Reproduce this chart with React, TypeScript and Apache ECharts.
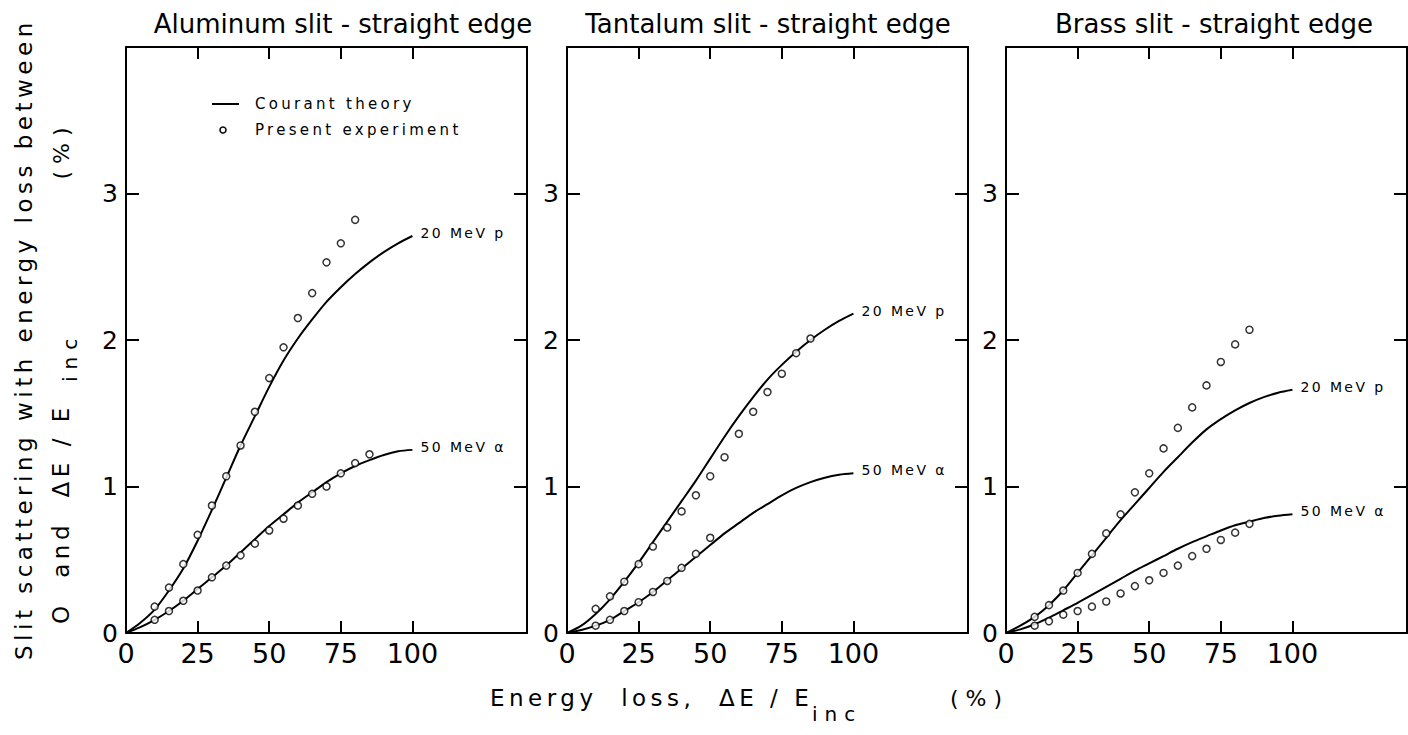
import React, { useEffect, useRef } from "react";
import * as echarts from "echarts";

// ---------- data ----------
const panelTitles = [
  "Aluminum slit - straight edge",
  "Tantalum slit - straight edge",
  "Brass slit - straight edge",
];
const xTickValues = [25, 50, 75, 100];
const xLabelValues = [0, 25, 50, 75, 100];
const yTickValues = [1, 2, 3];
const yLabelValues = [0, 1, 2, 3];

const theoryX = [0, 5, 10, 15, 20, 25, 30, 35, 40, 45, 50, 55, 60, 65, 70, 75, 80, 85, 90, 95, 100];
const expX = [10, 15, 20, 25, 30, 35, 40, 45, 50, 55, 60, 65, 70, 75, 80, 85];

const curveLabelP = "20 MeV p";
const curveLabelA = "50 MeV α";
const legendTheory = "Courant theory";
const legendExp = "Present experiment";

// Aluminum
const alTheoryP = [0, 0.07, 0.16, 0.29, 0.44, 0.63, 0.84, 1.06, 1.28, 1.48, 1.68, 1.86, 2.01, 2.14, 2.26, 2.36, 2.45, 2.53, 2.6, 2.66, 2.71];
const alTheoryA = [0, 0.04, 0.09, 0.15, 0.22, 0.3, 0.38, 0.46, 0.55, 0.64, 0.73, 0.81, 0.89, 0.96, 1.03, 1.09, 1.14, 1.18, 1.215, 1.24, 1.25];
const alExpP = [0.18, 0.31, 0.47, 0.67, 0.87, 1.07, 1.28, 1.51, 1.74, 1.95, 2.15, 2.32, 2.53, 2.66, 2.82];
const alExpA = [0.09, 0.15, 0.22, 0.29, 0.38, 0.46, 0.53, 0.61, 0.7, 0.78, 0.87, 0.95, 1.0, 1.09, 1.16, 1.22];

// Tantalum
const taTheoryP = [0, 0.05, 0.13, 0.23, 0.35, 0.48, 0.62, 0.76, 0.9, 1.04, 1.19, 1.34, 1.48, 1.61, 1.73, 1.83, 1.92, 2.0, 2.07, 2.13, 2.18];
const taTheoryA = [0, 0.02, 0.05, 0.09, 0.15, 0.21, 0.28, 0.36, 0.44, 0.52, 0.6, 0.68, 0.75, 0.82, 0.88, 0.94, 0.99, 1.03, 1.06, 1.08, 1.09];
const taExpP = [0.165, 0.25, 0.35, 0.47, 0.59, 0.72, 0.83, 0.94, 1.07, 1.2, 1.36, 1.51, 1.645, 1.77, 1.91, 2.01];
const taExpA = [0.05, 0.09, 0.15, 0.21, 0.28, 0.355, 0.445, 0.54, 0.65];

// Brass
const brTheoryP = [0, 0.05, 0.11, 0.19, 0.29, 0.41, 0.53, 0.65, 0.77, 0.88, 0.99, 1.1, 1.2, 1.3, 1.39, 1.46, 1.52, 1.57, 1.61, 1.64, 1.66];
const brTheoryA = [0, 0.025, 0.06, 0.105, 0.155, 0.205, 0.26, 0.315, 0.37, 0.425, 0.475, 0.525, 0.575, 0.62, 0.66, 0.7, 0.735, 0.76, 0.785, 0.8, 0.81];
const brExpP = [0.11, 0.19, 0.29, 0.41, 0.54, 0.68, 0.81, 0.96, 1.09, 1.26, 1.4, 1.54, 1.69, 1.85, 1.97, 2.07];
const brExpA = [0.05, 0.08, 0.125, 0.15, 0.18, 0.215, 0.27, 0.32, 0.36, 0.41, 0.46, 0.525, 0.575, 0.635, 0.685, 0.745];

const panelData = [
  { theoryP: alTheoryP, theoryA: alTheoryA, expP: alExpP, expA: alExpA },
  { theoryP: taTheoryP, theoryA: taTheoryA, expP: taExpP, expA: taExpA },
  { theoryP: brTheoryP, theoryA: brTheoryA, expP: brExpP, expA: brExpA },
];

// ---------- layout ----------
const W = 1408;
const H = 735;
const gridLefts = [126, 567, 1006];
const gridTop = 47;
const gridWidth = 401;
const gridHeight = 586;
const titleCenters = [338, 763, 1209];

const FONT = "DejaVu Sans";
const FONT_LEGEND = "DejaVu Sans, Lato";
const FONT_CURVE = "DejaVu Sans, Inter";
const FONT_AXIS = "DejaVu Sans, Roboto";
const FONT_WIDE = "DejaVu Sans, Open Sans";

const css = `
.chartbox text[style*="Lato"] { letter-spacing: 3.3px; }
.chartbox text[style*="Inter"] { letter-spacing: 2.4px; }
.chartbox text[style*="Roboto"] { letter-spacing: 4.5px; }
.chartbox text[style*="Open Sans"] { letter-spacing: 7px; }
`;

const pairs = (xs: number[], ys: number[]) => ys.map((y, i) => [xs[i], y]);

function buildOption() {
  const lineStyle = { color: "#000", width: 2 };
  const grid: any[] = [];
  const xAxis: any[] = [];
  const yAxis: any[] = [];
  const series: any[] = [];

  panelData.forEach((p, i) => {
    grid.push({ left: gridLefts[i], top: gridTop, width: gridWidth, height: gridHeight });
    (["bottom", "top"] as const).forEach((pos) => {
      xAxis.push({
        type: "value",
        gridIndex: i,
        position: pos,
        min: 0,
        max: 140,
        axisLine: { show: true, onZero: false, lineStyle },
        axisTick: { show: true, inside: true, length: 12, customValues: xTickValues, lineStyle },
        axisLabel:
          pos === "bottom"
            ? { show: true, customValues: xLabelValues, color: "#000", fontSize: 27, fontFamily: FONT, margin: 7 }
            : { show: false },
        splitLine: { show: false },
      });
    });
    (["left", "right"] as const).forEach((pos) => {
      yAxis.push({
        type: "value",
        gridIndex: i,
        position: pos,
        min: 0,
        max: 4,
        axisLine: { show: true, onZero: false, lineStyle },
        axisTick: { show: true, inside: true, length: 13, customValues: yTickValues, lineStyle },
        axisLabel:
          pos === "left"
            ? { show: true, customValues: yLabelValues, color: "#000", fontSize: 25, fontFamily: FONT, margin: 8 }
            : { show: false },
        splitLine: { show: false },
      });
    });

    const xi = 2 * i;
    const yi = 2 * i;
    const endLabel = (text: string) => ({
      show: true,
      formatter: text,
      distance: 8,
      offset: [0, -3],
      color: "#000",
      fontSize: 14,
      fontFamily: FONT_CURVE,
    });
    series.push({
      name: legendTheory,
      type: "line",
      xAxisIndex: xi,
      yAxisIndex: yi,
      data: pairs(theoryX, p.theoryP),
      smooth: 0.3,
      symbol: "none",
      lineStyle: { color: "#000", width: 2 },
      endLabel: endLabel(curveLabelP),
      z: 2,
    });
    series.push({
      name: legendTheory,
      type: "line",
      xAxisIndex: xi,
      yAxisIndex: yi,
      data: pairs(theoryX, p.theoryA),
      smooth: 0.3,
      symbol: "none",
      lineStyle: { color: "#000", width: 2 },
      endLabel: endLabel(curveLabelA),
      z: 2,
    });
    [p.expP, p.expA].forEach((vals) => {
      series.push({
        name: legendExp,
        type: "scatter",
        xAxisIndex: xi,
        yAxisIndex: yi,
        data: pairs(expX, vals),
        symbol: "circle",
        symbolSize: 7,
        itemStyle: { color: "#fff", borderColor: "#000", borderWidth: 1.5 },
        z: 3,
      });
    });
  });

  const title = panelTitles.map((t, i) => ({
    text: t,
    left: titleCenters[i],
    top: 6,
    textAlign: "center",
    textStyle: { fontSize: 26, fontWeight: "normal", fontFamily: FONT, color: "#000" },
  }));

  const axisText = { fill: "#000", fontSize: 23, fontFamily: FONT_AXIS };
  const wideText = { fill: "#000", fontSize: 22, fontFamily: FONT_WIDE };
  const graphic: any[] = [
    // legend
    { type: "line", shape: { x1: 212, y1: 104, x2: 239, y2: 104 }, style: { stroke: "#000", lineWidth: 2 } },
    { type: "circle", shape: { cx: 223, cy: 130, r: 3 }, style: { fill: "#fff", stroke: "#000", lineWidth: 1.5 } },
    {
      type: "text", x: 255, y: 104,
      style: { text: legendTheory, fill: "#000", fontSize: 15, fontFamily: FONT_LEGEND, align: "left", verticalAlign: "middle" },
    },
    {
      type: "text", x: 255, y: 130,
      style: { text: legendExp, fill: "#000", fontSize: 15, fontFamily: FONT_LEGEND, align: "left", verticalAlign: "middle" },
    },
    // y axis title
    {
      type: "text", x: 24, y: 660, rotation: Math.PI / 2,
      style: { ...axisText, text: "Slit scattering with energy loss between", align: "left", verticalAlign: "middle" },
    },
    {
      type: "text", x: 61, y: 624, rotation: Math.PI / 2,
      style: { ...axisText, text: "O  and  ΔE / E", align: "left", verticalAlign: "middle" },
    },
    {
      type: "text", x: 70, y: 382, rotation: Math.PI / 2,
      style: { ...wideText, fontSize: 20, text: "inc", align: "left", verticalAlign: "middle" },
    },
    {
      type: "text", x: 61, y: 150, rotation: Math.PI / 2,
      style: { ...wideText, text: "(%)", align: "center", verticalAlign: "middle" },
    },
    // x axis title
    {
      type: "text", x: 490, y: 698,
      style: { ...axisText, text: "Energy  loss,  ΔE / E", align: "left", verticalAlign: "middle" },
    },
    {
      type: "text", x: 812, y: 714,
      style: { ...wideText, fontSize: 20, text: "inc", align: "left", verticalAlign: "middle" },
    },
    {
      type: "text", x: 950, y: 698,
      style: { ...wideText, text: "(%)", align: "left", verticalAlign: "middle" },
    },
  ];

  return {
    animation: false,
    backgroundColor: "#fff",
    title,
    grid,
    xAxis,
    yAxis,
    series,
    graphic,
  };
}

export default function App() {
  const ref = useRef<HTMLDivElement>(null);
  useEffect(() => {
    if (!ref.current) return;
    const chart = echarts.init(ref.current, undefined, { renderer: "svg", width: W, height: H });
    chart.setOption(buildOption() as any);
    return () => chart.dispose();
  }, []);
  return (
    <div className="chartbox" style={{ position: "absolute", left: 0, top: 0, width: W, height: H, background: "#fff" }}>
      <style>{css}</style>
      <div ref={ref} style={{ width: W, height: H }} />
    </div>
  );
}
